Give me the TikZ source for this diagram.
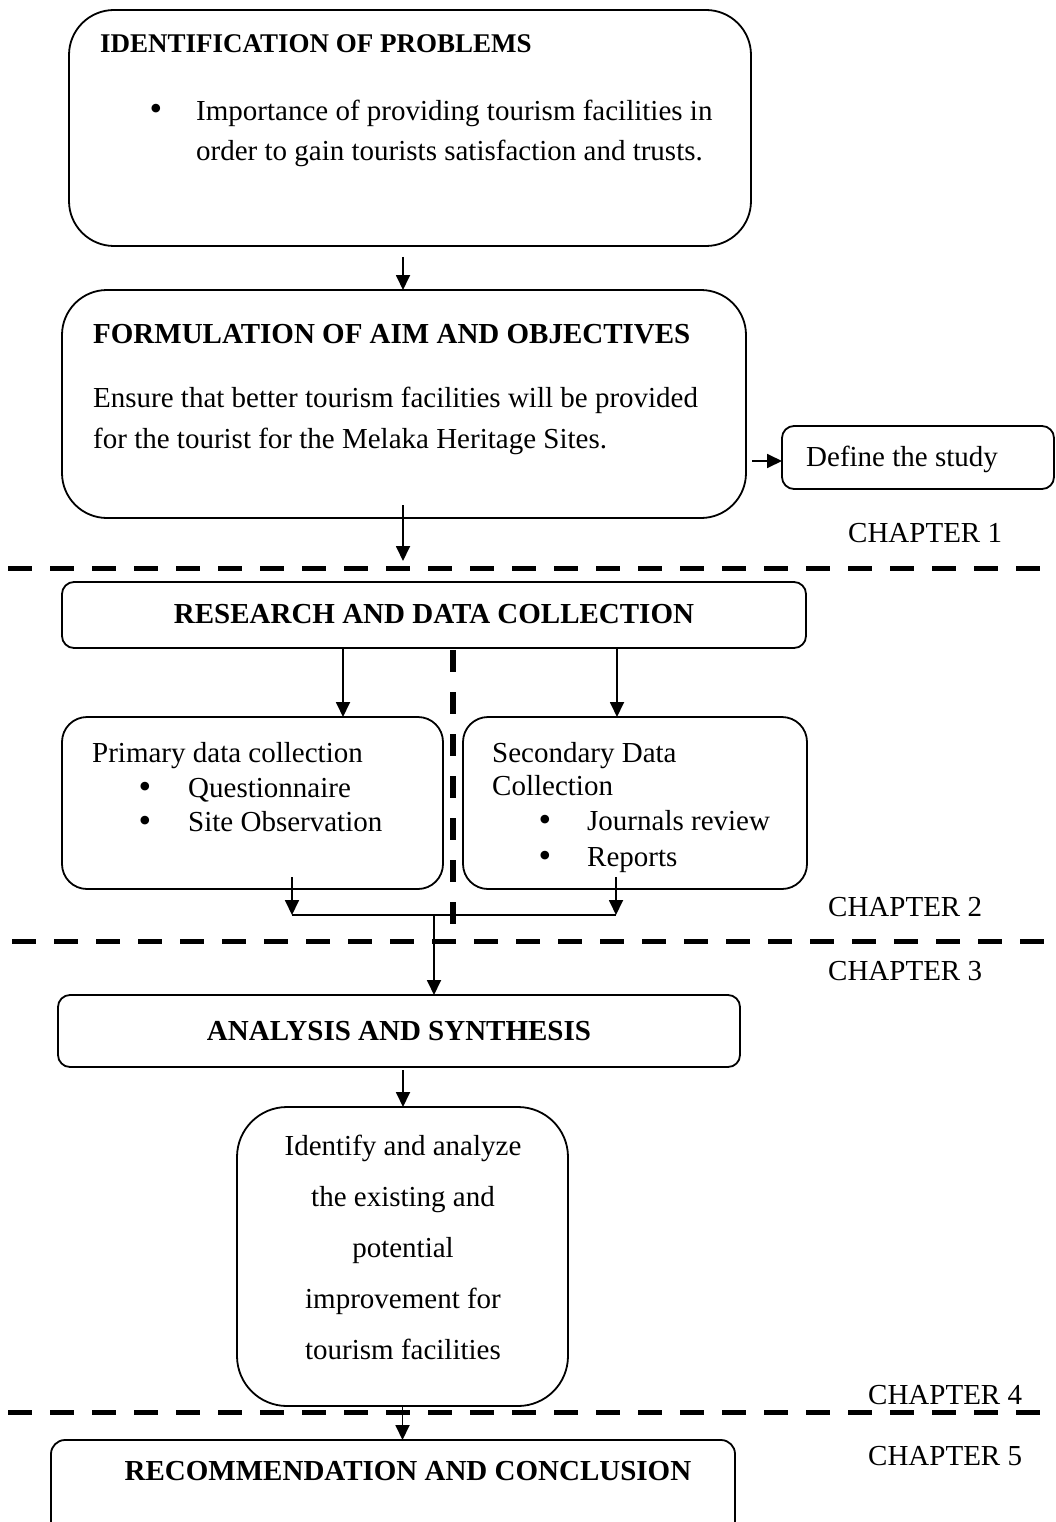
\documentclass[tikz,border=0pt]{standalone}
\usepackage{fontspec}
\setmainfont{Liberation Serif}
\usetikzlibrary{arrows.meta}

\begin{document}
\begin{tikzpicture}[x=1pt,y=-1pt,
    box/.style={draw,line width=1.8pt,rounded corners=#1,inner sep=0pt,outer sep=0pt},
    box/.default=12pt,
    txt/.style={inner sep=0pt,font=\fontsize{29}{35}\selectfont},
    ttl/.style={inner sep=0pt,font=\fontsize{29}{35}\selectfont\bfseries},
    bul/.style={inner sep=0pt,anchor=base,font=\fontsize{36}{36}\selectfont},
    arr/.style={line width=1.8pt,-{Triangle[length=15pt,width=14pt]}},
    sep/.style={line width=5pt,dash pattern=on 24pt off 18pt}]
      \useasboundingbox (0,0) rectangle (1055,1522);
      \node[box=45pt,minimum width=682pt,minimum height=236pt] (idbox) at (410,128) {};
      \node[box=45pt,minimum width=684pt,minimum height=228pt] (formbox) at (404,404) {};
      \node[box,minimum width=272pt,minimum height=63pt] (defbox) at (918,457.5) {};
      \node[box,minimum width=744pt,minimum height=66pt] (resbox) at (434,615) {};
      \node[box=25pt,minimum width=381pt,minimum height=172pt] (primbox) at (252.5,803) {};
      \node[box=25pt,minimum width=344pt,minimum height=172pt] (secbox) at (635,803) {};
      \node[box,minimum width=682pt,minimum height=72pt] (anbox) at (399,1031) {};
      \node[box=50pt,minimum width=331pt,minimum height=299pt] (idfbox) at (402.5,1256.5) {};
      \node[box=14pt,minimum width=684pt,minimum height=105pt] (recbox) at (393,1492.5) {};
      \node[ttl,anchor=base west,font=\fontsize{27}{33}\selectfont\bfseries] (idttl) at (100,53) {IDENTIFICATION OF PROBLEMS};
      \node[bul] (idbul) at (156,121) {\textbullet};
      \node[txt,anchor=north west,align=left,font=\fontsize{29}{40}\selectfont] (idtxt) at (196,100) {Importance of providing tourism facilities in\\order to gain tourists satisfaction and trusts.};
      \node[ttl,anchor=base west] (formttl) at (93,343) {FORMULATION OF AIM AND OBJECTIVES};
      \node[txt,anchor=north west,align=left,font=\fontsize{29}{41}\selectfont] (formtxt) at (93,387) {Ensure that better tourism facilities will be provided\\for the tourist for the Melaka Heritage Sites.};
      \node[txt,anchor=base west] (deftxt) at (806,466) {Define the study};
      \node[ttl,anchor=base] (resttl) at (434,623) {RESEARCH AND DATA COLLECTION};
      \node[txt,anchor=base west] (primttl) at (92,762) {Primary data collection};
      \node[bul] (primbul1) at (145,798) {\textbullet};
      \node[txt,anchor=base west] (primq) at (188,797) {Questionnaire};
      \node[bul] (primbul2) at (145,832) {\textbullet};
      \node[txt,anchor=base west] (prims) at (188,831) {Site Observation};
      \node[txt,anchor=north west,align=left,font=\fontsize{29}{33}\selectfont] (secttl) at (492,742) {Secondary Data\\Collection};
      \node[bul] (secbul1) at (545,831) {\textbullet};
      \node[txt,anchor=base west] (secj) at (587,830) {Journals review};
      \node[bul] (secbul2) at (545,867) {\textbullet};
      \node[txt,anchor=base west] (secr) at (587,866) {Reports};
      \node[ttl,anchor=base] (anttl) at (399,1040) {ANALYSIS AND SYNTHESIS};
      \node[txt,anchor=north,align=center,font=\fontsize{29}{51}\selectfont] (idftxt) at (403,1135) {Identify and analyze\\the existing and\\potential\\improvement for\\tourism facilities};
      \node[ttl,anchor=base] (recttl) at (408,1480) {RECOMMENDATION AND CONCLUSION};
      \node[txt,anchor=base west] (ch1) at (848,542) {CHAPTER 1};
      \node[txt,anchor=base west] (ch2) at (828,916) {CHAPTER 2};
      \node[txt,anchor=base west] (ch3) at (828,980) {CHAPTER 3};
      \node[txt,anchor=base west] (ch4) at (868,1404) {CHAPTER 4};
      \node[txt,anchor=base west] (ch5) at (868,1465) {CHAPTER 5};
      \coordinate (c1) at (403,257);
      \coordinate (c2) at (403,505);
      \coordinate (c3) at (403,561);
      \coordinate (c4) at (752,461);
      \coordinate (c5) at (343,648);
      \coordinate (c6) at (617,648);
      \coordinate (c7) at (292,877);
      \coordinate (c8) at (616,877);
      \coordinate (c9) at (292,915);
      \coordinate (c10) at (616,915);
      \coordinate (c11) at (434,915);
      \coordinate (c12) at (403,1070);
      \draw[sep] (8,568) -- (1055,568);
      \draw[sep] (12,941) -- (1055,941);
      \draw[sep] (8,1412) -- (1055,1412);
      \draw[line width=6pt,dash pattern=on 22pt off 20pt] (453,650) -- (453,924);
      \draw[arr] (c1) -- (c1 |- formbox.north);
      \draw[arr] (c2) -- (c3);
      \draw[arr] (c4) -- (c4 -| defbox.west);
      \draw[arr] (c5) -- (c5 |- primbox.north);
      \draw[arr] (c6) -- (c6 |- secbox.north);
      \draw[arr] (c7) -- (c9);
      \draw[arr] (c8) -- (c10);
      \draw[line width=1.8pt] (c9) -- (c10);
      \draw[arr] (c11) -- (c11 |- anbox.north);
      \draw[arr] (c12) -- (c12 |- idfbox.north);
      \draw[arr] (idfbox.south) -- (idfbox.south |- recbox.north);
    \end{tikzpicture}
\end{document}
